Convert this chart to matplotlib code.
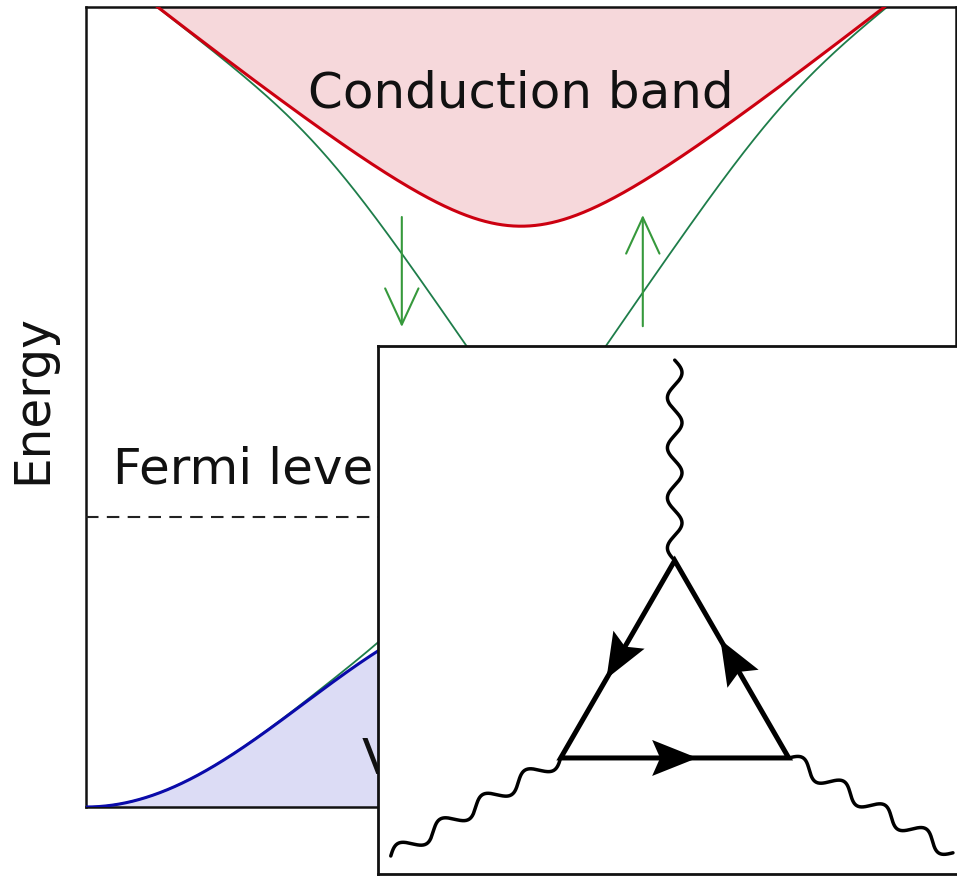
import numpy as np
import matplotlib
matplotlib.use("Agg")
import matplotlib.pyplot as plt
from matplotlib.patches import FancyArrowPatch, Polygon, ArrowStyle

# band parameters (k in [-1, 1], energy in [0, 1])
cb_min = 0.726       # conduction band bottom
cb_curv = 0.104      # rounding of the conduction band minimum
cb_slope = 0.435     # asymptotic slope of the conduction band
vb_top = 0.258       # valence band maximum
dirac_k = 0.035      # surface-state crossing point
dirac_e = 0.45
surf_v = 0.79        # surface-state velocity
fermi_e = 0.3625

# spin arrows on the surface states
spin_k = [-0.274, 0.28]
spin_from = [0.7375, 0.601]
spin_to = [0.600, 0.740]

# labels
band_labels = ["Conduction band", "Fermi level", "Valence band"]
label_k = [0.0, -0.938, -0.365]
label_e = [0.875, 0.406, 0.0425]
label_ha = ["center", "left", "left"]

# triangle diagram (units of the triangle side)
tri_x = [0.0, -0.5, 0.5]
tri_y = [0.577, -0.289, -0.289]
photon_end_x = [0.0, -1.245, 1.22]
photon_end_y = [1.456, -0.719, -0.705]

red, pink = "#cc0010", "#f6d8db"
blue, lavender = "#0a0aaa", "#dcdcf5"
green, spin_green = "#1e7d4a", "#36993c"


def smin(a, b, beta=30.0):
    return -np.logaddexp(-beta * a, -beta * b) / beta


def smax(a, b, beta=30.0):
    return np.logaddexp(beta * a, beta * b) / beta


k = np.linspace(-1.05, 1.05, 1500)
ec = cb_min - cb_curv + np.sqrt(cb_curv**2 + (cb_slope * k) ** 2)
ev = vb_top * (1 + np.cos(np.pi * np.clip(k, -1, 1))) / 2
surf_dn = smax(ev, smin(ec, dirac_e - surf_v * (k - dirac_k)))
surf_up = smax(ev, smin(ec, dirac_e + surf_v * (k - dirac_k)))

fig = plt.figure(figsize=(9.57, 8.78), dpi=100)
ax = fig.add_axes([86 / 957, 70 / 878, 870 / 957, 800 / 878])
ax.set_xlim(-1, 1)
ax.set_ylim(0, 1)
ax.set_xticks([])
ax.set_yticks([])
for s in ax.spines.values():
    s.set_linewidth(1.8)
    s.set_color("#111111")

ax.fill_between(k, ec, 1.2, color=pink, lw=0, zorder=1)
ax.fill_between(k, -0.1, ev, color=lavender, lw=0, zorder=1)
ax.plot(k, surf_dn, color=green, lw=1.3, zorder=2)
ax.plot(k, surf_up, color=green, lw=1.3, zorder=2)
ax.plot(k, ec, color=red, lw=2.2, zorder=3)
ax.plot(k, ev, color=blue, lw=2.2, zorder=3)
ax.axhline(fermi_e, color="#222222", lw=1.5, ls=(0, (6, 4)), zorder=3)

for kk, e0, e1 in zip(spin_k, spin_from, spin_to):
    arr = FancyArrowPatch((kk, e0), (kk, e1),
                          arrowstyle=ArrowStyle("->", head_length=26, head_width=12),
                          mutation_scale=1, shrinkA=0, shrinkB=0,
                          color=spin_green, lw=1.5, zorder=4)
    ax.add_patch(arr)

for txt, x, y, ha in zip(band_labels, label_k, label_e, label_ha):
    ax.text(x, y, txt, ha=ha, va="baseline", fontsize=36, color="#111111", zorder=5)

ax.text(-0.062, 0.511, "Energy", transform=ax.transAxes, rotation=90,
        ha="center", va="center", fontsize=35, color="#111111")

# inset with the triangle diagram
ins = fig.add_axes([378 / 957, 3 / 878, 590 / 957, 528 / 878])
ins.set_xlim(-1.301, 1.286)
ins.set_ylim(-0.798, 1.518)
ins.set_xticks([])
ins.set_yticks([])
ins.set_facecolor("white")
for s in ins.spines.values():
    s.set_linewidth(2.0)
    s.set_color("#111111")

verts = np.column_stack([tri_x, tri_y])
ins.add_patch(Polygon(verts, closed=True, fill=False, lw=3.6,
                      edgecolor="black", joinstyle="miter", zorder=3))

# photon legs
for (vx, vy), ex, ey in zip(verts, photon_end_x, photon_end_y):
    p0 = np.array([vx, vy])
    d = np.array([ex, ey]) - p0
    n = np.array([-d[1], d[0]]) / np.hypot(*d)
    t = np.linspace(0, 1, 500)
    pts = p0 + np.outer(t, d) + np.outer(0.032 * np.sin(2 * np.pi * 4 * t), n)
    ins.plot(pts[:, 0], pts[:, 1], color="black", lw=2.5,
             solid_capstyle="round", zorder=2)

# fermion arrow heads at edge midpoints
hl, hw, notch = 0.099, 0.079, 0.035
for i in range(3):
    a, b = verts[i], verts[(i + 1) % 3]
    m = (a + b) / 2
    u = (b - a) / np.hypot(*(b - a))
    n = np.array([-u[1], u[0]])
    head = [m + hl * u, m - hl * u + hw * n, m - hl * u + notch * u, m - hl * u - hw * n]
    ins.add_patch(Polygon(head, closed=True, color="black", lw=0, zorder=4))

fig.savefig("out.png", dpi=100)
